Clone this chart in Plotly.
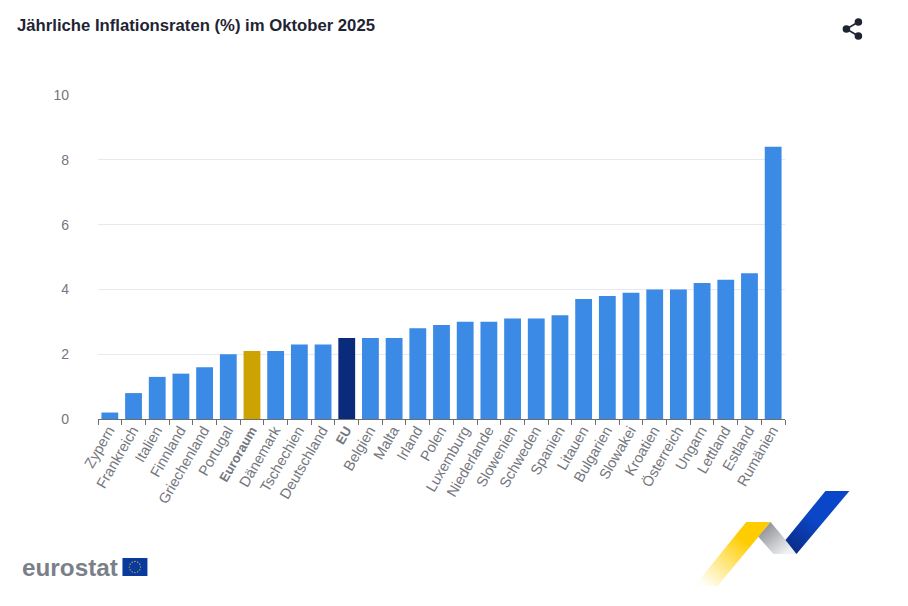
import base64
import math
import plotly.graph_objects as go

categories = ["Zypern","Frankreich","Italien","Finnland","Griechenland","Portugal","Euroraum","Dänemark","Tschechien","Deutschland","EU","Belgien","Malta","Irland","Polen","Luxemburg","Niederlande","Slowenien","Schweden","Spanien","Litauen","Bulgarien","Slowakei","Kroatien","Österreich","Ungarn","Lettland","Estland","Rumänien"]
values = [0.2,0.8,1.3,1.4,1.6,2.0,2.1,2.1,2.3,2.3,2.5,2.5,2.5,2.8,2.9,3.0,3.0,3.1,3.1,3.2,3.7,3.8,3.9,4.0,4.0,4.2,4.3,4.5,8.4]
highlight = {"Euroraum": "#cca300", "EU": "#0a2a7c"}
BASE = "#3b8ae6"
W, H = 908, 606
L, R, T, B = 97.5, 785.5, 95, 419

colors = [highlight.get(c, BASE) for c in categories]
labels = [f'<span style="font-size:13px"><b>{c}</b></span>' if c in highlight else c for c in categories]
positions = list(range(len(categories)))

stars = "".join(
    f'<circle cx="{134.5+5.6*math.cos(i*math.pi/6):.2f}" cy="{567+5.6*math.sin(i*math.pi/6):.2f}" r="0.6" fill="#ffd617"/>'
    for i in range(12))
svg = f'''<svg xmlns="http://www.w3.org/2000/svg" width="{W}" height="{H}" viewBox="0 0 {W} {H}">
<defs>
<linearGradient id="y" gradientUnits="userSpaceOnUse" x1="707" y1="586" x2="745" y2="540"><stop offset="0" stop-color="#ffd200" stop-opacity="0.03"/><stop offset="1" stop-color="#ffcc00"/></linearGradient>
<linearGradient id="g" gradientUnits="userSpaceOnUse" x1="765" y1="529" x2="786" y2="554"><stop offset="0" stop-color="#96979c"/><stop offset="1" stop-color="#f1f2f4"/></linearGradient>
<linearGradient id="b" gradientUnits="userSpaceOnUse" x1="792" y1="547" x2="815" y2="518"><stop offset="0" stop-color="#0a2e8c"/><stop offset="1" stop-color="#0c46c8"/></linearGradient>
</defs>
<polygon points="746.7,522 771,522 718,586 694.7,586" fill="url(#y)"/>
<polygon points="771,522 798,554 774,554 758.7,536.7" fill="url(#g)"/>
<polygon points="826,491 850,491 797,554 786,540" fill="url(#b)"/>
<rect x="122" y="558" width="25" height="18" fill="#0b3a9e"/>{stars}
<g stroke="#1f2433" stroke-width="1.6"><line x1="847" y1="29" x2="859" y2="22"/><line x1="847" y1="29" x2="859" y2="36"/></g>
<g fill="#1f2433"><circle cx="847" cy="29" r="3.8"/><circle cx="859" cy="22" r="3.8"/><circle cx="859" cy="36" r="3.8"/></g>
</svg>'''
uri = "data:image/svg+xml;base64," + base64.b64encode(svg.encode()).decode()

fig = go.Figure(go.Bar(x=positions, y=values, marker=dict(color=colors, line_width=0), width=0.71,
                       hovertext=categories, hoverinfo="text+y"))
fig.update_layout(
    width=W, height=H, autosize=False, showlegend=False,
    paper_bgcolor="white", plot_bgcolor="white",
    margin=dict(l=L, r=W-R, t=T, b=H-B, autoexpand=False),
    font=dict(family="Liberation Sans, Arial, sans-serif"),
    title=dict(text="<b>Jährliche Inflationsraten (%) im Oktober 2025</b>",
               x=17/W, xanchor="left", xref="container",
               y=1-25/H, yanchor="middle",
               font=dict(size=16.7, color="#1f2433")),
    xaxis=dict(range=[-0.5, len(categories)-0.5], tickmode="array", tickvals=positions, ticktext=labels,
               tickangle=-60, ticks="", showgrid=False, zeroline=False, showline=True, linecolor="#6e6e6e", linewidth=1,
               tickfont=dict(size=14.6, color="#74767e"), ticklabelshift=-1, ticklabelstandoff=-4,
               minor=dict(ticks="outside", ticklen=5, tickcolor="#6e6e6e", tickwidth=1, tick0=-0.5, dtick=1, showgrid=False)),
    yaxis=dict(range=[0, 10], tickvals=[0,2,4,6,8,10], showgrid=True, gridcolor="#e6e9f2", gridwidth=1,
               zeroline=False, showline=False, ticks="", tickfont=dict(size=14, color="#74767e"), ticklabelstandoff=28),
    images=[dict(source=uri, xref="paper", yref="paper", x=-L/(R-L), y=1+T/(B-T),
                 sizex=W/(R-L), sizey=H/(B-T), xanchor="left", yanchor="top", sizing="stretch", layer="above")],
    annotations=[dict(text="<b>eurostat</b>", xref="paper", yref="paper", x=(19.5-L)/(R-L), y=1-(567-T)/(B-T),
                      xanchor="left", yanchor="middle", showarrow=False,
                      font=dict(size=24.3, color="#7b7f89"))],
)
fig.write_html("out.html", config={"displayModeBar": False}, post_script="document.body.style.margin='0';")
